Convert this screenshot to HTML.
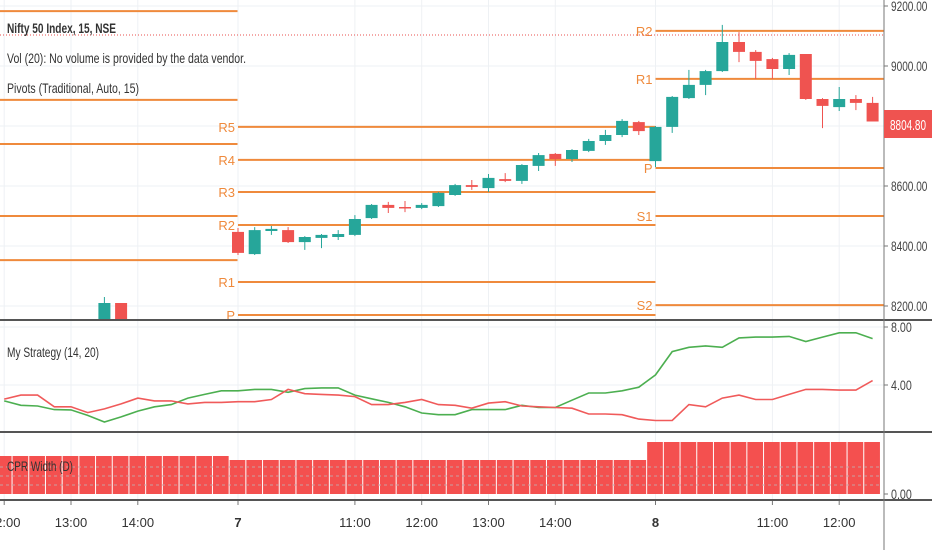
<!DOCTYPE html>
<html><head><meta charset="utf-8"><style>
body{margin:0;background:#fff;width:932px;height:550px;overflow:hidden}
svg{display:block;font-family:"Liberation Sans",sans-serif}
</style></head><body>
<svg id="chart" width="932" height="550" viewBox="0 0 932 550" xmlns="http://www.w3.org/2000/svg">
<g id="grid"></g>
<g id="pivots"></g>
<line x1="0" y1="35" x2="884" y2="35" stroke="#e8504f" stroke-width="1" stroke-dasharray="1,2"/>
<g id="candles"></g>
<g id="strat"></g>
<g id="cpr"></g>
<g font-size="14" fill="#333">
<text x="7" y="33" font-weight="bold" textLength="109" lengthAdjust="spacingAndGlyphs">Nifty 50 Index, 15, NSE</text>
<text x="7" y="63" textLength="239" lengthAdjust="spacingAndGlyphs">Vol (20): No volume is provided by the data vendor.</text>
<text x="7" y="93" textLength="132" lengthAdjust="spacingAndGlyphs">Pivots (Traditional, Auto, 15)</text>
<text x="7" y="357" textLength="92" lengthAdjust="spacingAndGlyphs">My Strategy (14, 20)</text>
<text x="7" y="471" textLength="66" lengthAdjust="spacingAndGlyphs">CPR Width (D)</text>
</g>
<g id="axes"></g>
</svg>
<script>
const open_ = [8447,8373,8450,8453,8413,8427,8430,8437,8493,8537,8530,8527,8533,8570,8603,8593,8623,8617,8667,8707,8690,8717,8750,8770,8813,8683,8797,8893,8937,8983,9080,9047,9023,8990,9040,8890,8863,8890,8877];
const high_ = [8460,8463,8467,8463,8433,8440,8453,8503,8540,8547,8550,8543,8580,8607,8620,8640,8643,8673,8710,8710,8723,8757,8787,8823,8817,8800,8900,8987,8987,9137,9113,9053,9027,9043,9040,8893,8930,8903,8897];
const low_ = [8370,8370,8437,8410,8387,8393,8420,8433,8490,8510,8513,8523,8530,8567,8587,8580,8613,8607,8650,8667,8680,8713,8737,8763,8770,8663,8777,8890,8903,8980,9013,8957,8957,8970,8887,8793,8850,8853,8817];
const close_ = [8377,8453,8457,8413,8430,8437,8440,8490,8537,8527,8527,8537,8577,8603,8597,8627,8617,8670,8703,8690,8720,8750,8770,8817,8783,8797,8897,8937,8983,9080,9047,9017,8990,9037,8890,8867,8890,8877,8815];
const greenLine = [2.9,2.6,2.55,2.3,2.28,1.9,1.45,1.8,2.2,2.5,2.65,3.1,3.35,3.6,3.6,3.7,3.7,3.5,3.75,3.8,3.8,3.3,3.05,2.8,2.5,2.07,1.95,1.95,2.3,2.3,2.3,2.6,2.45,2.45,2.95,3.45,3.45,3.6,3.85,4.7,6.3,6.6,6.7,6.6,7.25,7.3,7.3,7.35,7.0,7.3,7.6,7.6,7.2];
const redLine = [3.03,3.3,3.3,2.5,2.5,2.1,2.35,2.7,3.1,2.9,2.9,2.7,2.8,2.8,2.85,2.85,3.0,3.7,3.4,3.35,3.3,3.2,2.65,2.65,2.8,3.0,2.65,2.6,2.4,2.75,2.85,2.55,2.5,2.45,2.4,2.0,2.0,1.95,1.65,1.55,1.55,2.65,2.5,3.1,3.3,3.0,3.0,3.35,3.7,3.7,3.65,3.65,4.3];
const cprValues = [3.8,3.4,5.2];
const pivotDay6 = [9183,8887,8740,8500,8353];
const pivotDay7Names = ["R5","R4","R3","R2","R1","P"];
const pivotDay7 = [8797,8687,8580,8470,8280,8170];
const pivotDay8Names = ["R2","R1","P","S1","S2"];
const pivotDay8 = [9117,8957,8660,8500,8203];
const priceTicks = [9200,9000,8600,8400,8200];
const stratTicks = [8,4];
const timeLabels = ["12:00","13:00","14:00","7","11:00","12:00","13:00","14:00","8","11:00","12:00"];
const timeBars = [-14,-10,-6,0,7,11,15,19,25,32,36];

const NS="http://www.w3.org/2000/svg";
const AX=884, BW=16.7, X0=238;
const bx=i=>X0+i*BW;
const py=p=>6+(9200-p)*0.3;
const sy=v=>327+(8-v)*14.5;
const cy=v=>494-v*10;
function mk(tag,parent,attrs){const e=document.createElementNS(NS,tag);for(const k in attrs)e.setAttribute(k,attrs[k]);parent.appendChild(e);return e;}
const grid=document.getElementById('grid');
timeBars.forEach(b=>{const l=mk('line',grid,{x1:bx(b),x2:bx(b),y1:0,y2:500,stroke:'#eef1f4'});

});
priceTicks.concat([8800]).forEach(p=>{const l=mk('line',grid,{x1:0,x2:AX,y1:py(p),y2:py(p),stroke:'#eef1f4'});

});
stratTicks.forEach(v=>{const l=mk('line',grid,{x1:0,x2:AX,y1:sy(v),y2:sy(v),stroke:'#eef1f4'});

});
const pv=document.getElementById('pivots');
const OR='#ef8a3c';
function pline(x1,x2,p,name){const l=mk('line',pv,{x1:x1,x2:x2,y1:py(p),y2:py(p),stroke:OR,'stroke-width':2});


if(name){const t=mk('text',pv,{x:x1-3,y:py(p)+5,'text-anchor':'end','font-size':13,fill:OR});t.textContent=name;

}}
pivotDay6.forEach(p=>pline(0,bx(0)-0.5,p,null));
pivotDay7.forEach((p,i)=>pline(bx(0),bx(25),p,pivotDay7Names[i]));
pivotDay8.forEach((p,i)=>pline(bx(25),AX,p,pivotDay8Names[i]));
const cg=document.getElementById('candles');
const UP='#26a69a',DN='#ef5350';
function candle(x,o,h,l,c){const col=c>=o?UP:DN;
const w=mk('line',cg,{x1:x,x2:x,y1:py(h),y2:py(l),stroke:col,'stroke-width':1});


const t=Math.min(py(o),py(c)),hh=Math.max(1.5,Math.abs(py(o)-py(c)));
const r=mk('rect',cg,{x:x-6,y:t,width:12,height:hh,fill:col});

}
open_.forEach((o,i)=>candle(bx(i),o,high_[i],low_[i],close_[i]));
const cl=mk('clipPath',cg,{id:'mc'});mk('rect',cl,{x:0,y:0,width:AX,height:320});
const d6=mk('g',cg,{'clip-path':'url(#mc)'});
[[-8,8140,8230,8130,8210],[-7,8210,8210,8130,8140]].forEach(a=>{const col=a[4]>=a[1]?UP:DN;
mk('line',d6,{x1:bx(a[0]),x2:bx(a[0]),y1:py(a[2]),y2:py(a[3]),stroke:col});
const r=mk('rect',d6,{x:bx(a[0])-6,y:py(Math.max(a[1],a[4])),width:12,height:Math.abs(py(a[1])-py(a[4])),fill:col});

});
const sg=document.getElementById('strat');
function series(arr,col,name){const pts=arr.map((v,i)=>bx(i-14).toFixed(1)+','+sy(v).toFixed(1)).join(' ');
const p=mk('polyline',sg,{points:pts,fill:'none',stroke:col,'stroke-width':1.6});

}
series(greenLine,'#4caf50','green-line');
series(redLine,'#f05a5a','red-line');
const hg=document.getElementById('cpr');
for(let i=-15;i<=38;i++){const d=i<0?0:(i<25?1:2);
const x1=Math.max(0,bx(i)-BW/2),x2=Math.min(AX,bx(i)+BW/2);
const r=mk('rect',hg,{x:x1,y:cy(cprValues[d]),width:x2-x1-1,height:494-cy(cprValues[d]),fill:'#f4504f'});

}
[467,476,485].forEach(y=>mk('line',hg,{x1:0,x2:AX-5,y1:y,y2:y,stroke:'#c9a0a0','stroke-dasharray':'3,3','stroke-width':1}));
const ag=document.getElementById('axes');
[[320,2],[432,2],[500,2]].forEach(a=>{const l=mk('line',ag,{x1:0,x2:932,y1:a[0],y2:a[0],stroke:'#555','stroke-width':a[1]});

});
mk('line',ag,{x1:AX,x2:AX,y1:0,y2:550,stroke:'#777','stroke-width':1});
function ylabel(y,txt){mk('line',ag,{x1:AX,x2:AX+4,y1:y,y2:y,stroke:'#777'});
const t=mk('text',ag,{x:AX+7,y:y+5,'font-size':14,fill:'#444',textLength:txt.length*5.2,lengthAdjust:'spacingAndGlyphs'});t.textContent=txt;

}
priceTicks.forEach(p=>ylabel(py(p),p.toFixed(2)));
stratTicks.forEach(v=>ylabel(sy(v),v.toFixed(2)));
ylabel(494,'0.00');
const lb=mk('rect',ag,{x:AX,y:110,width:48,height:28,fill:'#ef5350'});


const lt=mk('text',ag,{x:AX+6,y:130,'font-size':15,fill:'#fff',textLength:36,lengthAdjust:'spacingAndGlyphs'});lt.textContent='8804.80';


timeLabels.forEach((s,i)=>{const x=bx(timeBars[i]);mk('line',ag,{x1:x,x2:x,y1:501,y2:505,stroke:'#777'});
const t=mk('text',ag,{x:x,y:527,'font-size':13,fill:'#333','text-anchor':'middle','font-weight':(s==='7'||s==='8')?'bold':'normal'});t.textContent=s;

});
</script>
</body></html>
